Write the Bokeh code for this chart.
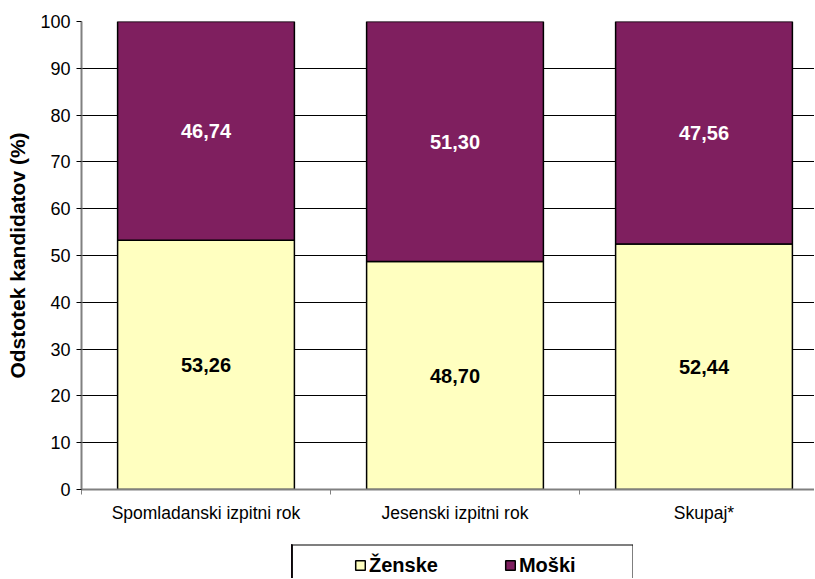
from bokeh.plotting import figure
from bokeh.models import Range1d, FixedTicker, Legend, LegendItem, ColumnDataSource, Span
from bokeh.layouts import column
from bokeh.core.properties import value
from bokeh.embed import file_html
from bokeh.resources import INLINE

# ---- data ----
categories = ["Spomladanski izpitni rok", "Jesenski izpitni rok", "Skupaj*"]
zenske = [53.26, 48.70, 52.44]
moski = [46.74, 51.30, 47.56]
series_names = ["Ženske", "Moški"]
y_ticks = [0, 10, 20, 30, 40, 50, 60, 70, 80, 90, 100]
y_label = "Odstotek kandidatov (%)"

FONT = "Liberation Sans"
YELLOW = "#FFFFC0"
PURPLE = "#7F1F5F"

xs = [i + 0.5 for i in range(len(categories))]
m_top = [z + m for z, m in zip(zenske, moski)]

src = ColumnDataSource(dict(
    x=xs,
    z_top=zenske,
    m_bottom=list(zenske),
    m_top=m_top,
    z_mid=[z / 2 for z in zenske],
    m_mid=[z + m / 2 for z, m in zip(zenske, moski)],
    z_lab=[f"{z:.2f}".replace(".", ",") for z in zenske],
    m_lab=[f"{m:.2f}".replace(".", ",") for m in moski],
))

W = 814
BL = 81
CAT_PX = 249

p = figure(width=W, height=544, output_backend="svg", toolbar_location=None,
           x_range=Range1d(0, (W - BL) / CAT_PX), y_range=Range1d(0, 100),
           min_border_left=BL, min_border_right=0, min_border_top=21,
           min_border_bottom=55)
p.outline_line_color = None

rz = p.vbar(x="x", width=0.71, bottom=0, top="z_top", source=src,
            fill_color=YELLOW, line_color="black", line_width=1.5)
rm = p.vbar(x="x", width=0.71, bottom="m_bottom", top="m_top", source=src,
            fill_color=PURPLE, line_color="black", line_width=1.5)

p.text(x="x", y="z_mid", text="z_lab", source=src, text_color="black",
       text_font=value(FONT), text_font_style="bold", text_font_size="20px",
       text_align="center", text_baseline="middle")
p.text(x="x", y="m_mid", text="m_lab", source=src, text_color="white",
       text_font=value(FONT), text_font_style="bold", text_font_size="20px",
       text_align="center", text_baseline="middle")

# x axis
xa = p.xaxis[0]
xa.ticker = FixedTicker(ticks=xs, minor_ticks=[0, 1, 2, 3])
xa.major_label_overrides = {x: c for x, c in zip(xs, categories)}
xa.major_tick_out = 0
xa.major_tick_in = 0
xa.minor_tick_out = 5
xa.minor_tick_in = 0
xa.minor_tick_line_color = "#808080"
xa.axis_line_color = "#808080"
xa.axis_line_width = 2
xa.major_label_text_font = FONT
xa.major_label_text_font_size = "17.5px"
xa.major_label_text_color = "black"
xa.major_label_standoff = 8

# y axis
ya = p.yaxis[0]
ya.ticker = FixedTicker(ticks=y_ticks, minor_ticks=[])
ya.major_tick_out = 5
ya.major_tick_in = 0
ya.major_tick_line_color = "black"
ya.axis_line_color = "#808080"
ya.axis_line_width = 2
ya.major_label_text_font = FONT
ya.major_label_text_font_size = "18px"
ya.major_label_text_color = "black"
ya.major_label_standoff = 6
ya.axis_label = y_label
ya.axis_label_text_font = FONT
ya.axis_label_text_font_size = "21px"
ya.axis_label_text_font_style = "bold"
ya.axis_label_text_color = "black"
ya.axis_label_standoff = 8

p.xgrid.visible = False
p.ygrid.ticker = FixedTicker(ticks=y_ticks, minor_ticks=[])
p.ygrid.grid_line_color = "black"
p.ygrid.grid_line_width = 1

# ---- legend box (separate small figure under the chart) ----
p2 = figure(width=BL + 342, height=34, output_backend="svg", toolbar_location=None,
            x_axis_type=None, y_axis_type=None,
            x_range=Range1d(10, 11), y_range=Range1d(0, 1),
            min_border_left=BL, min_border_right=0, min_border_top=0,
            min_border_bottom=0, margin=(0, 0, 0, 291 - BL))
p2.outline_line_color = None
p2.grid.visible = False
# renderers only used for the legend swatches (their bars lie outside p2's x range)
lz = p2.vbar(x="x", top="z_top", width=0.71, source=src,
             fill_color=YELLOW, line_color="black", line_width=1.5)
lm = p2.vbar(x="x", top="m_top", width=0.71, source=src,
             fill_color=PURPLE, line_color="black", line_width=1.5)
for loc, dim in ((10, "height"), (11, "height"), (1, "width")):
    p2.add_layout(Span(location=loc, dimension=dim, line_color="black", line_width=2))

legend = Legend(
    items=[LegendItem(label=series_names[0], renderers=[lz]),
           LegendItem(label=series_names[1], renderers=[lm])],
    orientation="horizontal", location=(63, 1), padding=0, margin=0,
    spacing=66, label_standoff=3, glyph_width=12, glyph_height=12,
    label_height=24,
    label_text_font=FONT, label_text_font_style="bold",
    label_text_font_size="20px", label_text_color="black",
    border_line_alpha=0, background_fill_alpha=0)
p2.add_layout(legend, "center")

layout = column(p, p2, spacing=0)
open("out.html", "w").write(file_html(layout, INLINE))
